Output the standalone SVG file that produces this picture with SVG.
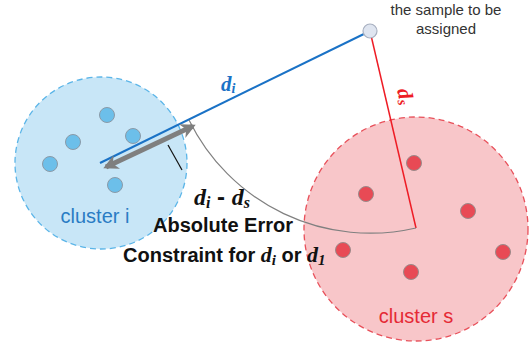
<svg xmlns="http://www.w3.org/2000/svg" width="529" height="344" viewBox="0 0 529 344">
<style>
.ci{fill:#c8e6f7;stroke:#5bb5e8;stroke-width:1.3;stroke-dasharray:6 4}
.cs{fill:#f8c6c9;stroke:#e8505a;stroke-width:1.3;stroke-dasharray:6 4}
.bd{fill:#6cbfea;stroke:#8a9aa8;stroke-width:1}
.rd{fill:#e84a55;stroke:#9a8a8a;stroke-width:1}
.sans{font-family:"Liberation Sans",Arial,sans-serif}
.math{font-family:"Liberation Serif","Times New Roman",serif;font-style:italic}
</style>
<defs>
<marker id="ah" viewBox="0 0 10 10" refX="8" refY="5" markerWidth="3" markerHeight="3" orient="auto-start-reverse" markerUnits="strokeWidth">
<path d="M0,0 L10,5 L0,10 L3,5 z" fill="#7f7f7f"/>
</marker>
</defs>
<g id="cluster-i">
<circle class="ci" cx="101" cy="163" r="86"/>
<circle class="bd" cx="107" cy="115" r="7.5"/>
<circle class="bd" cx="73" cy="142" r="7.5"/>
<circle class="bd" cx="133" cy="136" r="7.5"/>
<circle class="bd" cx="50" cy="164" r="7.5"/>
<circle class="bd" cx="115" cy="185" r="7.5"/>
<text class="sans" x="95" y="223" font-size="20" fill="#2a7cc4" text-anchor="middle">cluster i</text>
</g>
<g id="cluster-s">
<circle class="cs" cx="416" cy="229" r="112"/>
<circle class="rd" cx="414" cy="163" r="7.5"/>
<circle class="rd" cx="366" cy="194" r="7.5"/>
<circle class="rd" cx="468" cy="211" r="7.5"/>
<circle class="rd" cx="343" cy="250" r="7.5"/>
<circle class="rd" cx="503" cy="252" r="7.5"/>
<circle class="rd" cx="411" cy="272" r="7.5"/>
<text class="sans" x="416" y="323" font-size="20" fill="#e52a35" text-anchor="middle">cluster s</text>
</g>
<g id="connectors">
<line x1="100" y1="163" x2="370" y2="31" stroke="#1a72c6" stroke-width="2"/>
<line x1="370" y1="31" x2="416" y2="228" stroke="#ee1c25" stroke-width="1.5"/>
<path d="M416 228 A202 202 0 0 1 189 120" fill="none" stroke="#808080" stroke-width="1.2"/>
<line x1="106" y1="167" x2="193" y2="126" stroke="#7f7f7f" stroke-width="5" marker-start="url(#ah)" marker-end="url(#ah)"/>
<line x1="168" y1="145" x2="182" y2="170" stroke="#111" stroke-width="1.2"/>
</g>
<g id="sample">
<circle cx="370" cy="31" r="7" fill="#dfe5f0" stroke="#a8b0c0" stroke-width="1.2"/>
<text class="sans" font-size="15" fill="#333" text-anchor="middle"><tspan x="446" y="15">the sample to be</tspan><tspan x="446" y="34">assigned</tspan></text>
</g>
<g id="labels">
<text class="math" x="221" y="91" font-size="21" font-weight="bold" fill="#1a72c6">d<tspan font-size="14" dy="2">i</tspan></text>
<text class="math" x="0" y="0" font-size="21" font-weight="bold" fill="#ee1c25" transform="translate(397,90) rotate(77)">d<tspan font-size="14" dy="2">s</tspan></text>
<text x="194" y="205" font-size="24" font-weight="bold" fill="#111"><tspan class="math">d</tspan><tspan class="math" font-size="16" dy="3">i</tspan><tspan class="sans" dy="-3"> - </tspan><tspan class="math">d</tspan><tspan class="math" font-size="16" dy="3">s</tspan></text>
<text class="sans" x="153" y="232" font-size="20" font-weight="bold" fill="#111">Absolute Error</text>
<text x="123" y="262" font-size="20" font-weight="bold" fill="#111"><tspan class="sans">Constraint for </tspan><tspan class="math" font-size="22">d</tspan><tspan class="math" font-size="15" dy="3">i</tspan><tspan class="sans" dy="-3"> or </tspan><tspan class="math" font-size="22">d</tspan><tspan class="math" font-size="15" dy="3">1</tspan></text>
</g>
</svg>
